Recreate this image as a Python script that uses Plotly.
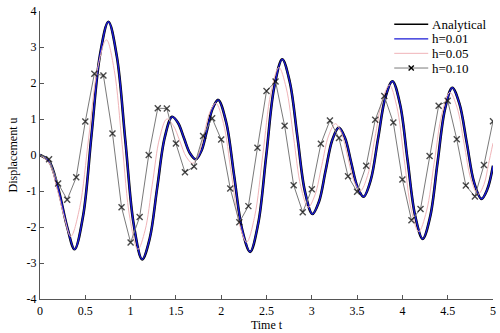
import plotly.graph_objects as go

# Analytical response: extrema plus intermediate points
t_analytical = [0.0, 0.1, 0.2, 0.3, 0.381,
                0.475, 0.568, 0.662, 0.755,
                0.848, 0.942, 1.035, 1.128,
                1.211, 1.293, 1.376, 1.458,
                1.524, 1.589, 1.655, 1.72,
                1.782, 1.844, 1.905, 1.967,
                2.055, 2.143, 2.231, 2.319,
                2.408, 2.497, 2.585, 2.674,
                2.757, 2.841, 2.924, 3.007,
                3.08, 3.152, 3.225, 3.297,
                3.366, 3.434, 3.503, 3.571,
                3.651, 3.731, 3.81, 3.89,
                3.974, 4.057, 4.141, 4.224,
                4.306, 4.387, 4.469, 4.55,
                4.63, 4.711, 4.792, 4.872,
                4.936, 5.0]
u_analytical = [0.0, -0.17, -0.92, -2.0, -2.62,
                -1.70, 0.54, 2.78, 3.70,
                2.74, 0.40, -1.94, -2.90,
                -2.32, -0.92, 0.48, 1.06,
                0.89, 0.47, 0.05, -0.12,
                0.12, 0.70, 1.29, 1.53,
                0.91, -0.58, -2.07, -2.69,
                -1.91, -0.02, 1.88, 2.66,
                2.03, 0.51, -1.01, -1.64,
                -1.29, -0.44, 0.41, 0.76,
                0.48, -0.20, -0.88, -1.16,
                -0.69, 0.45, 1.58, 2.05,
                1.41, -0.14, -1.69, -2.33,
                -1.72, -0.23, 1.26, 1.87,
                1.42, 0.33, -0.77, -1.22,
                -0.96, -0.30]

# h = 0.01 is indistinguishable from the analytical solution
t_h001 = list(t_analytical)
u_h001 = list(u_analytical)

# h = 0.05
t_h005 = [0.0, 0.1, 0.2, 0.27, 0.34,
          0.438, 0.537, 0.635, 0.733,
          0.82, 0.907, 0.993, 1.08,
          1.16, 1.24, 1.32, 1.40,
          1.471, 1.543, 1.614, 1.685,
          1.749, 1.813, 1.876, 1.94,
          2.025, 2.11, 2.195, 2.28,
          2.369, 2.459, 2.548, 2.637,
          2.718, 2.799, 2.879, 2.96,
          3.035, 3.11, 3.185, 3.26,
          3.329, 3.398, 3.466, 3.535,
          3.616, 3.696, 3.777, 3.857,
          3.938, 4.019, 4.099, 4.18,
          4.266, 4.352, 4.438, 4.524,
          4.602, 4.68, 4.757, 4.835,
          4.9, 4.95, 5.0]
u_h005 = [0.0, -0.22, -1.05, -1.75, -2.26,
          -1.46, 0.47, 2.40, 3.20,
          2.35, 0.29, -1.77, -2.62,
          -2.09, -0.81, 0.47, 1.00,
          0.82, 0.39, -0.05, -0.23,
          0.01, 0.61, 1.20, 1.44,
          0.88, -0.49, -1.86, -2.42,
          -1.71, 0.0, 1.72, 2.43,
          1.86, 0.49, -0.88, -1.45,
          -1.11, -0.29, 0.53, 0.87,
          0.60, -0.07, -0.73, -1.00,
          -0.57, 0.47, 1.51, 1.94,
          1.35, -0.10, -1.54, -2.13,
          -1.56, -0.20, 1.17, 1.74,
          1.33, 0.33, -0.68, -1.09,
          -0.82, -0.26, 0.33]

# h = 0.10 (one point per step)
t_h010 = [round(0.1 * i, 1) for i in range(51)]
u_h010 = [0.0, -0.12, -0.79, -1.24, -0.62, 0.93, 2.26, 2.21, 0.60, -1.45,
          -2.43, -1.72, 0.0, 1.30, 1.29, 0.32, -0.48, -0.32, 0.53, 1.02,
          0.43, -0.93, -1.87, -1.42, 0.20, 1.78, 2.04, 0.81, -0.84, -1.59,
          -0.95, 0.31, 0.96, 0.47, -0.59, -1.02, -0.30, 0.98, 1.64, 0.90,
          -0.68, -1.81, -1.50, -0.03, 1.37, 1.51, 0.44, -0.85, -1.15, -0.28,
          0.94]

x_ticks = [0, 0.5, 1, 1.5, 2, 2.5, 3, 3.5, 4, 4.5, 5]
x_tick_text = ["0", "0.5", "1", "1.5", "2", "2.5", "3", "3.5", "4", "4.5", "5"]
y_ticks = [-4, -3, -2, -1, 0, 1, 2, 3, 4]
y_tick_text = ["-4", "-3", "-2", "-1", "0", "1", "2", "3", "4"]

series_names = ["Analytical", "h=0.01", "h=0.05", "h=0.10"]

FONT = "Liberation Serif, Times New Roman, serif"
BLACK = "black"
BLUE = "#1a1ad6"
PINK = "#f0b4b8"
GREY = "#7a7a7a"

fig = go.Figure()
fig.add_trace(go.Scatter(
    x=t_analytical, y=u_analytical, mode="lines", name=series_names[0],
    line=dict(color=BLACK, width=2.6, shape="spline", smoothing=1.0)))
fig.add_trace(go.Scatter(
    x=t_h001, y=u_h001, mode="lines", name=series_names[1],
    line=dict(color=BLUE, width=1.4, shape="spline", smoothing=1.0)))
fig.add_trace(go.Scatter(
    x=t_h005, y=u_h005, mode="lines", name=series_names[2],
    line=dict(color=PINK, width=1.0, shape="spline", smoothing=1.0)))
# the starting point sits on the axis, so its cross is not drawn
marker_sizes = [0] + [6] * (len(t_h010) - 1)
fig.add_trace(go.Scatter(
    x=t_h010, y=u_h010, mode="lines+markers", name=series_names[3],
    line=dict(color=GREY, width=1.0),
    marker=dict(symbol="x-thin", size=marker_sizes, color=BLACK,
                line=dict(color=BLACK, width=1.4))))

# Legend drawn by hand so rows sit close together
legend_rows_y = [0.954, 0.903, 0.853, 0.802]
legend_styles = [(BLACK, 1.5), (BLUE, 1.2), (PINK, 1.0), (GREY, 1.0)]
key_x0, key_x1, text_x = 0.782, 0.857, 0.862
shapes = []
annotations = []
for name, (color, width), ry in zip(series_names, legend_styles, legend_rows_y):
    shapes.append(dict(type="line", xref="paper", yref="paper",
                       x0=key_x0, x1=key_x1, y0=ry, y1=ry,
                       line=dict(color=color, width=width)))
    annotations.append(dict(xref="paper", yref="paper", x=text_x, y=ry,
                            xanchor="left", yanchor="middle", showarrow=False,
                            text=name,
                            font=dict(family=FONT, size=13, color="black")))
# cross marker on the h=0.10 key
cx, cy = (key_x0 + key_x1) / 2, legend_rows_y[3]
dx, dy = 2.6 / 455, 2.6 / 295
for sgn in (1, -1):
    shapes.append(dict(type="line", xref="paper", yref="paper",
                       x0=cx - dx, x1=cx + dx, y0=cy - sgn * dy, y1=cy + sgn * dy,
                       line=dict(color=BLACK, width=1.4)))

axis_common = dict(
    showgrid=False, zeroline=False, showline=True, linecolor="#555555",
    linewidth=1.3, ticks="inside", ticklen=4, tickcolor="#555555",
    tickwidth=1, mirror=False, ticklabeloverflow="allow",
    tickfont=dict(family=FONT, size=12, color="black"),
)

fig.update_layout(
    width=500, height=333,
    margin=dict(l=40, r=5, t=4, b=34),
    paper_bgcolor="white", plot_bgcolor="white",
    showlegend=False,
    shapes=shapes,
    annotations=annotations,
    xaxis=dict(range=[0, 5], tickvals=x_ticks, ticktext=x_tick_text,
               title=dict(text="Time t", standoff=2,
                          font=dict(family=FONT, size=12, color="black")),
               **axis_common),
    yaxis=dict(range=[-4, 4], tickvals=y_ticks, ticktext=y_tick_text,
               title=dict(text="Displacement u", standoff=6,
                          font=dict(family=FONT, size=12, color="black")),
               **axis_common),
)

fig.write_html("out.html")
